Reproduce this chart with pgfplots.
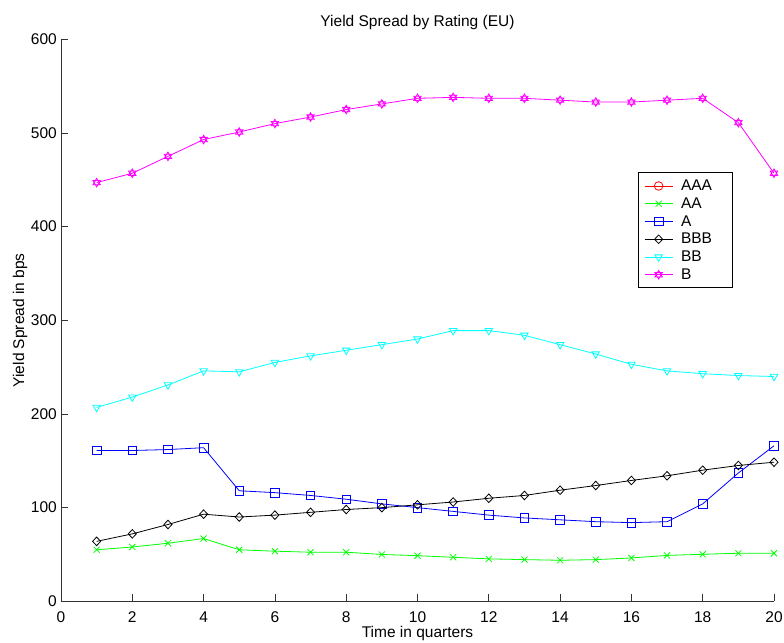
\documentclass[border=0pt]{standalone}
\usepackage{fontspec}
\setmainfont{Liberation Sans}
\usepackage{pgfplots}
\pgfplotsset{compat=1.18}
\usetikzlibrary{calc}

\definecolor{mgreen}{rgb}{0,1,0}
\definecolor{mblue}{rgb}{0,0,1}
\definecolor{mred}{rgb}{1,0,0}
\definecolor{mcyan}{rgb}{0,1,1}
\definecolor{mmagenta}{rgb}{1,0,1}

% six-pointed star marker (two overlapping triangles)
\pgfdeclareplotmark{hexagram}{%
  \pgfpathmoveto{\pgfqpointpolar{90}{\pgfplotmarksize}}%
  \pgfpathlineto{\pgfqpointpolar{210}{\pgfplotmarksize}}%
  \pgfpathlineto{\pgfqpointpolar{330}{\pgfplotmarksize}}%
  \pgfpathclose
  \pgfpathmoveto{\pgfqpointpolar{270}{\pgfplotmarksize}}%
  \pgfpathlineto{\pgfqpointpolar{30}{\pgfplotmarksize}}%
  \pgfpathlineto{\pgfqpointpolar{150}{\pgfplotmarksize}}%
  \pgfpathclose
  \pgfusepathqstroke
}

% legend sample: a longer line with one marker in the middle
\pgfplotsset{
  wide legend/.style={
    legend image code/.code={%
      \draw[mark repeat=2, mark phase=2] plot coordinates {(4pt,0pt) (18pt,0pt) (32pt,0pt)};
      \path (38pt,0pt);}},
}

\begin{document}
\begin{tikzpicture}
\begin{axis}[
  name=ax,
  scale only axis,
  width=713pt, height=562pt,
  xmin=0, xmax=20, ymin=0, ymax=600,
  xtick={0,2,...,20}, ytick={0,100,...,600},
  axis x line=bottom, axis y line=left,
  axis line style={-, black!80, line width=0.8pt},
  tick align=inside,
  major tick length=7pt,
  tick style={black!80, line width=0.8pt},
  font=\fontsize{15.5}{18}\selectfont,
  /pgf/number format/assume math mode=true,
  yticklabel style={inner sep=0pt, xshift=-4pt},
  xticklabel style={inner sep=0pt, yshift=-10pt},
  title={Yield Spread by Rating (EU)},
  xlabel={Time in quarters},
  ylabel={Yield Spread in bps},
  every axis plot/.append style={line width=0.8pt, mark size=4.3pt, mark options={solid}},
  every axis plot post/.append style={wide legend},
  legend style={at={(rel axis cs:0.809,0.763)}, anchor=north west,
    draw=black, line width=0.8pt, inner xsep=6pt, inner ysep=5pt,
    row sep=1.6pt, font=\fontsize{15.5}{17.8}\selectfont,
    cells={anchor=west}},
]
% AAA has no observations in this window
\addlegendimage{mred, mark=o, line width=0.8pt, mark size=4.3pt, wide legend}
\addlegendentry{AAA\rule{12pt}{0pt}}

\addplot[mgreen, mark=x] coordinates {
 (1,55) (2,58) (3,62) (4,67) (5,55) (6,53.5) (7,52.4) (8,52.4) (9,50) (10,48.7)
 (11,47) (12,45.3) (13,44.5) (14,43.8) (15,44.5) (16,46.3) (17,49) (18,50.2) (19,51.3) (20,51.3)};
\addlegendentry{AA}

\addplot[mblue, mark=square] coordinates {
 (1,161) (2,161) (3,162) (4,164) (5,118) (6,116) (7,113) (8,109) (9,104) (10,100)
 (11,96) (12,92) (13,89) (14,87) (15,85) (16,84) (17,85) (18,104) (19,137) (20,166)};
\addlegendentry{A}

\addplot[black, mark=diamond, mark options={xscale=1.25}] coordinates {
 (1,64) (2,72) (3,82) (4,93) (5,90) (6,92) (7,95) (8,98) (9,100) (10,103)
 (11,106) (12,110) (13,113) (14,118.6) (15,123.6) (16,129) (17,134) (18,140) (19,145) (20,148.5)};
\addlegendentry{BBB}

\addplot[mcyan, mark=triangle, mark options={rotate=180}] coordinates {
 (1,207) (2,218) (3,231) (4,246) (5,245) (6,255) (7,262) (8,268) (9,274) (10,280)
 (11,289) (12,289) (13,284) (14,274) (15,264) (16,253) (17,246) (18,243) (19,241) (20,240)};
\addlegendentry{BB}

\addplot[mmagenta, mark=hexagram] coordinates {
 (1,447) (2,457) (3,475) (4,493) (5,501) (6,510) (7,517) (8,525) (9,531) (10,537)
 (11,538) (12,537) (13,537) (14,535) (15,533) (16,533) (17,535) (18,537) (19,511) (20,457)};
\addlegendentry{B}
\end{axis}
\pgfresetboundingbox
\path ($(ax.south west)+(-61pt,-41pt)$) rectangle ($(ax.north east)+(10pt,39.3pt)$);
\end{tikzpicture}
\end{document}
